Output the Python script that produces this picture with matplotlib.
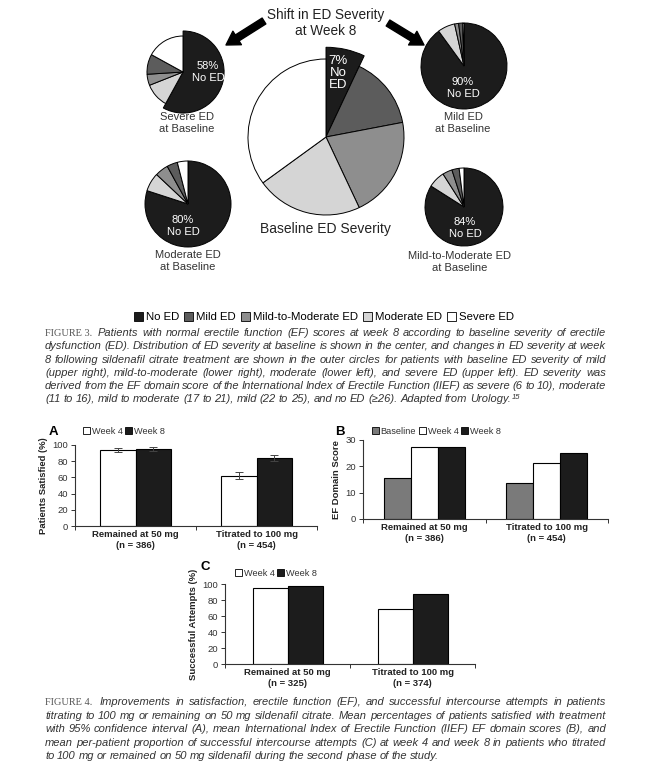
import numpy as np
import matplotlib
matplotlib.use("Agg")
import matplotlib.pyplot as plt
from matplotlib.patches import Patch, FancyArrowPatch
from matplotlib.transforms import IdentityTransform

W, H = 654, 772
plt.rcParams['font.family'] = ['Liberation Sans', 'DejaVu Sans']

# ---- data ----
ed_levels = ["No ED", "Mild ED", "Mild-to-Moderate ED", "Moderate ED", "Severe ED"]
ed_colors = ["#1c1c1c", "#5c5c5c", "#8e8e8e", "#d5d5d5", "#ffffff"]

# % of patients, legend order (No ED, Mild, Mild-to-Mod, Moderate, Severe)
baseline_dist = [7, 15, 21, 22, 35]
severe_wk8 = [58, 9, 5, 11, 17]
mild_wk8 = [90, 1.5, 1.5, 6.5, 0.5]
moderate_wk8 = [80, 4, 5, 7, 4]
mildmod_wk8 = [84, 3, 4, 7, 2]

groups_ab = ["Remained at 50 mg\n(n = 386)", "Titrated to 100 mg\n(n = 454)"]
groups_c = ["Remained at 50 mg\n(n = 325)", "Titrated to 100 mg\n(n = 374)"]

sat_wk4 = [94, 62]
sat_wk8 = [95, 84]
sat_wk4_err = [2.5, 4.5]
sat_wk8_err = [2.0, 3.5]

ef_base = [15.5, 13.6]
ef_wk4 = [27.3, 21.2]
ef_wk8 = [27.3, 25.0]

att_wk4 = [95, 68.5]
att_wk8 = [97, 88]

cap3 = [
    "Patients with normal erectile function (EF) scores at week 8 according to baseline severity of erectile",
    "dysfunction (ED). Distribution of ED severity at baseline is shown in the center, and changes in ED severity at week",
    "8 following sildenafil citrate treatment are shown in the outer circles for patients with baseline ED severity of mild",
    "(upper right), mild-to-moderate (lower right), moderate (lower left), and severe ED (upper left). ED severity was",
    "derived from the EF domain score of the International Index of Erectile Function (IIEF) as severe (6 to 10), moderate",
    "(11 to 16), mild to moderate (17 to 21), mild (22 to 25), and no ED (\u226526). Adapted from Urology.",
]
cap4 = [
    "Improvements in satisfaction, erectile function (EF), and successful intercourse attempts in patients",
    "titrating to 100 mg or remaining on 50 mg sildenafil citrate. Mean percentages of patients satisfied with treatment",
    "with 95% confidence interval (A), mean International Index of Erectile Function (IIEF) EF domain scores (B), and",
    "mean per-patient proportion of successful intercourse attempts (C) at week 4 and week 8 in patients who titrated",
    "to 100 mg or remained on 50 mg sildenafil during the second phase of the study.",
]

fig = plt.figure(figsize=(W / 100, H / 100), dpi=100)
fig.patch.set_facecolor('white')

# ---- pies (axes in pixel units) ----
TOP = 300
pax = fig.add_axes([0, 1 - TOP / H, 1, TOP / H])


def py(y):
    return TOP - y


def draw_pie(vals, cx, cy, r, order, pop, pop_dist, pop_scale=1.0):
    v = [vals[i] for i in order]
    c = [ed_colors[i] for i in order]
    ex = [pop_dist if i == pop else 0 for i in order]
    wedges, _ = pax.pie(v, colors=c, startangle=90, counterclock=False,
                        center=(cx, py(cy)), radius=r, explode=ex,
                        wedgeprops=dict(edgecolor='black', linewidth=0.7))
    if pop_scale != 1.0:
        wedges[order.index(pop)].set_radius(r * pop_scale)


center_order = [0, 1, 2, 3, 4]
outer_order = [0, 3, 2, 1, 4]
draw_pie(baseline_dist, 326, 137, 78, center_order, 0, 0.03, 1.15)
draw_pie(severe_wk8, 183, 72, 36, outer_order, 0, 0.07, 1.14)
draw_pie(mild_wk8, 464, 66, 43, outer_order, 3, 0.14)
draw_pie(moderate_wk8, 188, 204, 43, outer_order, 3, 0.12)
draw_pie(mildmod_wk8, 464, 207, 39, outer_order, 3, 0.12)

pax.set_xlim(0, W)
pax.set_ylim(0, TOP)
pax.axis('off')

wt = dict(color='white', ha='center', va='center', fontsize=8, linespacing=1.15)
pax.text(338, py(73), "7%\nNo\nED", **dict(wt, fontsize=9.5, linespacing=1.05))
pax.text(208, py(72), "58%\nNo ED", **wt)
pax.text(463, py(88), "90%\nNo ED", **wt)
pax.text(183, py(226), "80%\nNo ED", **wt)
pax.text(465, py(228), "84%\nNo ED", **wt)

lt = dict(color='#333333', ha='center', va='center', fontsize=8, linespacing=1.15)
pax.text(187, py(123), "Severe ED\nat Baseline", **lt)
pax.text(463, py(123), "Mild ED\nat Baseline", **lt)
pax.text(188, py(261), "Moderate ED\nat Baseline", **lt)
pax.text(460, py(262), "Mild-to-Moderate ED\nat Baseline", **lt)
pax.text(325, py(229), "Baseline ED Severity", color='#222222', ha='center', va='center', fontsize=10)
pax.text(326, py(23), "Shift in ED Severity\nat Week 8", color='#222222', ha='center', va='center',
         fontsize=9.8, linespacing=1.12)

for a, b in [((264, 21), (226, 45)), ((388, 23), (424, 45))]:
    pax.add_patch(FancyArrowPatch((a[0], py(a[1])), (b[0], py(b[1])),
                                  arrowstyle='simple,head_length=0.95,head_width=1.15,tail_width=0.5',
                                  mutation_scale=10, color='black', shrinkA=0, shrinkB=0))

fig.legend(handles=[Patch(facecolor=c, edgecolor='black', linewidth=0.6, label=l)
                    for c, l in zip(ed_colors, ed_levels)],
           loc='center', bbox_to_anchor=(324 / W, 1 - 317 / H), ncol=5, frameon=False,
           fontsize=8.2, handlelength=0.8, handleheight=0.8, handletextpad=0.25,
           columnspacing=0.45, borderpad=0, borderaxespad=0)

# ---- captions ----
renderer = fig.canvas.get_renderer()
cap_kw = dict(fontsize=8.0, style='italic', color='#333333', va='baseline')


def put_line(x0, x1, y, line, justify=True):
    words = line.split(' ')
    arts = [fig.text(0, 0, w, transform=IdentityTransform(), **cap_kw) for w in words]
    widths = [t.get_window_extent(renderer).width for t in arts]
    if justify and len(words) > 1:
        gap = max((x1 - x0 - sum(widths)) / (len(words) - 1), 1.5)
    else:
        gap = 2.8
    x = x0
    for t, w in zip(arts, widths):
        t.set_position((x, H - y))
        x += w + gap
    return x - gap


def caption(label, lines, y0, dy, first_x):
    fig.text(45, H - y0, label, transform=IdentityTransform(), family='Liberation Serif',
             fontsize=7.4, color='#555555', va='baseline')
    end = 0
    for i, line in enumerate(lines):
        x0 = first_x if i == 0 else 45
        end = put_line(x0, 606, y0 + i * dy, line, justify=(i < len(lines) - 1))
    return end, y0 + (len(lines) - 1) * dy


end3, ylast3 = caption("FIGURE 3.", cap3, 336, 13.3, 98)
fig.text(end3 + 1, H - ylast3 + 3.5, "15", transform=IdentityTransform(), fontsize=5.5,
         style='italic', color='#333333', va='baseline')
caption("FIGURE 4.", cap4, 705, 13.6, 100)

# ---- bar panels ----


def bar_axes(x0, y0, x1, y1):
    return fig.add_axes([x0 / W, 1 - y1 / H, (x1 - x0) / W, (y1 - y0) / H])


def style_axes(ax, groups, ymax, ystep, ylabel):
    for s in ['top', 'right']:
        ax.spines[s].set_visible(False)
    for s in ['left', 'bottom']:
        ax.spines[s].set_color('#333333')
        ax.spines[s].set_linewidth(0.8)
    ax.set_ylim(0, ymax)
    ax.set_yticks(np.arange(0, ymax + 0.1, ystep))
    ax.set_xlim(-0.5, len(groups) - 0.5)
    ax.set_xticks(np.arange(-0.5, len(groups)), labels=[])
    ax.set_xticks(np.arange(len(groups)), labels=groups, minor=True)
    ax.tick_params(axis='x', which='major', length=3, width=0.7, color='#333333')
    ax.tick_params(axis='x', which='minor', length=0, pad=3)
    ax.tick_params(axis='y', length=3, width=0.7, color='#333333', labelsize=6.8, pad=2,
                   labelcolor='#333333')
    for t in ax.get_xticklabels(minor=True):
        t.set_fontsize(6.8)
        t.set_fontweight('bold')
        t.set_color('#222222')
    ax.set_ylabel(ylabel, fontsize=6.8, fontweight='bold', color='#222222', labelpad=3)


def bar_legend(x, y, labels, colors):
    fig.legend(handles=[Patch(facecolor=c, edgecolor='black', linewidth=0.6, label=l)
                        for c, l in zip(colors, labels)],
               loc='center left', bbox_to_anchor=(x / W, 1 - y / H), ncol=len(labels),
               frameon=False, fontsize=6.6, handlelength=0.75, handleheight=0.75,
               handletextpad=0.2, columnspacing=0.3, borderpad=0, borderaxespad=0,
               labelcolor='#333333')


ekw = dict(ecolor='#444444', elinewidth=0.7, capthick=0.7)

# A
axA = bar_axes(75, 445, 317, 526)
x = np.arange(len(groups_ab))
bw = 0.29
axA.bar(x - bw / 2, sat_wk4, bw, color='white', edgecolor='black', linewidth=0.8,
        yerr=sat_wk4_err, capsize=3, error_kw=ekw)
axA.bar(x + bw / 2, sat_wk8, bw, color=ed_colors[0], edgecolor='black', linewidth=0.8,
        yerr=sat_wk8_err, capsize=3, error_kw=ekw)
style_axes(axA, groups_ab, 100, 20, "Patients Satisfied (%)")
fig.text(53 / W, 1 - 432 / H, "A", fontsize=9.5, fontweight='bold', ha='center', va='center')
bar_legend(83, 431, ["Week 4", "Week 8"], ["white", ed_colors[0]])

# B
axB = bar_axes(363, 440, 608, 519)
bw = 0.22
axB.bar(x - bw, ef_base, bw, color='#7a7a7a', edgecolor='black', linewidth=0.8)
axB.bar(x, ef_wk4, bw, color='white', edgecolor='black', linewidth=0.8)
axB.bar(x + bw, ef_wk8, bw, color=ed_colors[0], edgecolor='black', linewidth=0.8)
style_axes(axB, groups_ab, 30, 10, "EF Domain Score")
fig.text(340 / W, 1 - 432 / H, "B", fontsize=9.5, fontweight='bold', ha='center', va='center')
bar_legend(372, 431, ["Baseline", "Week 4", "Week 8"], ['#7a7a7a', "white", ed_colors[0]])

# C
axC = bar_axes(225, 584, 475, 664)
bw = 0.28
axC.bar(x - bw / 2, att_wk4, bw, color='white', edgecolor='black', linewidth=0.8)
axC.bar(x + bw / 2, att_wk8, bw, color=ed_colors[0], edgecolor='black', linewidth=0.8)
style_axes(axC, groups_c, 100, 20, "Successful Attempts (%)")
fig.text(205 / W, 1 - 567 / H, "C", fontsize=9.5, fontweight='bold', ha='center', va='center')
bar_legend(235, 573, ["Week 4", "Week 8"], ["white", ed_colors[0]])

fig.savefig("out.png", dpi=100, facecolor='white')
